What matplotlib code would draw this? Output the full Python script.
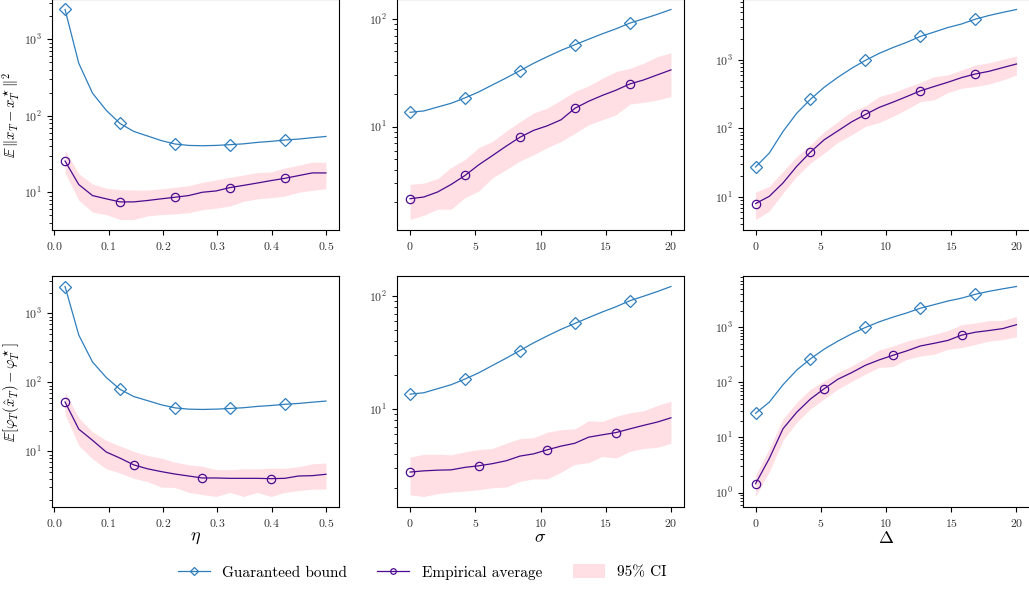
"""
Guaranteed bound vs empirical average: 2x3 grid of log-scale panels
(rows: distance to x*_T / suboptimality, columns: eta, sigma, Delta).
"""

import numpy as np
import matplotlib

matplotlib.use("Agg")
import matplotlib.pyplot as plt  # noqa: E402
from matplotlib.lines import Line2D  # noqa: E402
from matplotlib.patches import Patch  # noqa: E402

# ---------------------------------------------------------------------------
# Data
# ---------------------------------------------------------------------------

ETA = [0.02, 0.0453, 0.0705, 0.0958, 0.1211, 0.1463, 0.1716, 0.1968, 0.2221, 0.2474,
       0.2726, 0.2979, 0.3232, 0.3484, 0.3737, 0.3989, 0.4242, 0.4495, 0.4747, 0.5]
SIGMA = [0.0, 1.053, 2.105, 3.158, 4.211, 5.263, 6.316, 7.368, 8.421, 9.474,
         10.526, 11.579, 12.632, 13.684, 14.737, 15.789, 16.842, 17.895, 18.947, 20.0]
DELTA = SIGMA

# guaranteed bound (identical in both rows)
BOUND_ETA = [2460, 486, 198, 118, 79.4, 62.5, 54.5, 47.5, 42.8, 41.0,
             40.6, 41.0, 41.9, 43.0, 44.9, 46.3, 48.2, 49.6, 51.7, 53.7]
BOUND_SIGMA = [13.6, 14.0, 15.2, 16.5, 18.5, 21.0, 24.4, 28.3, 33.1, 38.7,
               44.6, 51.0, 57.5, 64.7, 72.6, 80.8, 91.2, 100, 110, 122]
BOUND_DELTA = [27.4, 43.7, 90.4, 167, 267, 400, 560, 757, 989, 1250,
               1520, 1810, 2210, 2560, 2980, 3360, 3950, 4470, 4960, 5470]

# row 1: E||x_T - x*_T||^2
DIST_ETA = [25.6, 12.6, 9.05, 8.2, 7.48, 7.48, 7.8, 8.2, 8.6, 9.05,
            10.0, 10.4, 11.5, 12.3, 13.2, 14.2, 15.2, 16.5, 17.9, 17.9]
DIST_ETA_HI = [35.3, 17.5, 12.8, 11.3, 10.8, 10.7, 10.7, 11.1, 11.6, 12.2,
               13.5, 14.5, 15.7, 16.8, 18.1, 18.4, 20.8, 22.5, 24.9, 24.6]
DIST_ETA_LO = [17.9, 7.87, 5.5, 5.1, 4.4, 4.4, 4.9, 5.1, 5.2, 5.4,
               5.9, 6.2, 6.6, 7.6, 8.2, 8.5, 8.9, 10.0, 10.6, 11.1]

DIST_SIGMA = [2.15, 2.23, 2.48, 2.92, 3.53, 4.43, 5.4, 6.6, 7.98, 9.25,
              10.2, 11.6, 14.8, 17.2, 19.5, 21.8, 24.9, 27.1, 30.2, 33.6]
DIST_SIGMA_HI = [2.92, 3.0, 3.3, 4.2, 4.96, 6.4, 7.3, 9.1, 11.1, 13.4,
                 14.9, 17.7, 21.2, 23.9, 28.1, 32.4, 34.8, 38.7, 44.6, 48.5]
DIST_SIGMA_LO = [1.38, 1.51, 1.72, 1.72, 2.2, 2.53, 3.36, 4.0, 4.8, 5.5,
                 6.4, 7.3, 8.7, 10.4, 11.6, 12.9, 16.2, 16.8, 17.7, 19.0]

DIST_DELTA = [8.0, 10.2, 16.0, 28.0, 45.2, 68.4, 92.4, 125, 160, 203,
              242, 292, 354, 410, 473, 553, 625, 684, 774, 875]
DIST_DELTA_HI = [11.7, 14.3, 23.6, 39.0, 57.7, 90.0, 126, 177, 214, 292,
                 333, 400, 468, 572, 605, 715, 844, 912, 1020, 1150]
DIST_DELTA_LO = [4.68, 6.2, 11.4, 20.0, 31.3, 43.8, 62.6, 81.0, 107, 122,
                 150, 190, 247, 262, 333, 387, 410, 446, 510, 605]

# row 2: E[phi_T(x_hat_T) - phi*_T]
GAP_ETA = [52.1, 21.0, 14.5, 9.8, 8.0, 6.38, 5.6, 5.1, 4.7, 4.4,
           4.12, 4.12, 4.07, 4.07, 4.07, 4.03, 4.07, 4.4, 4.45, 4.66]
GAP_ETA_HI = [72.3, 30.7, 19.2, 14.5, 12.0, 10.0, 8.74, 8.0, 7.0, 6.4,
              6.1, 5.45, 5.45, 5.6, 5.6, 5.7, 5.7, 6.0, 6.6, 6.8]
GAP_ETA_LO = [34.4, 12.2, 7.8, 5.6, 4.87, 4.07, 3.64, 3.04, 3.0, 2.54,
              2.37, 2.22, 2.54, 2.22, 2.54, 2.22, 2.54, 2.7, 2.84, 2.84]

GAP_SIGMA = [2.78, 2.85, 2.89, 2.91, 3.06, 3.16, 3.3, 3.5, 3.85, 4.03,
             4.38, 4.72, 5.0, 5.66, 5.94, 6.22, 6.7, 7.2, 7.7, 8.4]
GAP_SIGMA_HI = [3.77, 4.0, 4.0, 3.95, 4.2, 4.4, 4.5, 5.0, 5.5, 5.6,
                6.27, 6.6, 6.7, 7.9, 7.8, 8.67, 9.3, 9.7, 10.8, 11.8]
GAP_SIGMA_LO = [1.75, 1.69, 1.79, 1.85, 1.89, 1.94, 2.02, 2.05, 2.3, 2.42,
                2.42, 2.78, 3.25, 3.37, 3.82, 3.7, 4.23, 4.5, 4.6, 5.0]

GAP_DELTA = [1.45, 4.15, 14.4, 28.7, 49.9, 76.6, 114, 150, 204, 255,
             309, 371, 456, 510, 575, 717, 810, 870, 943, 1110]
GAP_DELTA_HI = [2.08, 6.27, 21.8, 43.4, 75.4, 106, 150, 198, 272, 385,
                456, 560, 645, 740, 870, 1110, 1190, 1320, 1330, 1570]
GAP_DELTA_LO = [0.85, 2.39, 8.87, 18.9, 33.0, 50.0, 75.4, 104, 141, 186,
                193, 260, 300, 322, 398, 425, 487, 560, 596, 669]

X_LABELS = [r"$\eta$", r"$\sigma$", r"$\Delta$"]
Y_LABELS = [r"$\mathbb{E}\,\|x_T - x_T^\star\|^2$",
            r"$\mathbb{E}[\varphi_T(\hat{x}_T) - \varphi_T^\star]$"]
LEGEND_LABELS = ["Guaranteed bound", "Empirical average", "95% CI"]

# ---------------------------------------------------------------------------
# Style
# ---------------------------------------------------------------------------

BOUND_COLOR = "#2e7ebc"
EMP_COLOR = "#4b0a8f"
CI_COLOR = "pink"

plt.rcParams["font.family"] = ["cmr10", "DejaVu Serif"]
plt.rcParams["mathtext.fontset"] = "cm"
plt.rcParams["axes.formatter.use_mathtext"] = True
plt.rcParams["axes.unicode_minus"] = False

W, H = 1029, 592
COL_LEFT = [52, 397, 742.5]
ROW_TOP = [-1, 276]
AX_W, AX_H = 287, 231


def panel(ax, x, bound, emp, lo, hi, emp_every):
    ax.fill_between(x, lo, hi, color=CI_COLOR, alpha=0.5, linewidth=0)
    ax.plot(x, bound, color=BOUND_COLOR, lw=0.9, marker="D", ms=6,
            mfc="none", mew=0.9, markevery=4)
    ax.plot(x, emp, color=EMP_COLOR, lw=0.9, marker="o", ms=6,
            mfc="none", mew=0.9, markevery=emp_every)
    ax.set_yscale("log")
    ax.tick_params(labelsize=8.5, labelcolor="#333333")


fig = plt.figure(figsize=(W / 100, H / 100), dpi=100)

rows = [
    [(ETA, BOUND_ETA, DIST_ETA, DIST_ETA_LO, DIST_ETA_HI),
     (SIGMA, BOUND_SIGMA, DIST_SIGMA, DIST_SIGMA_LO, DIST_SIGMA_HI),
     (DELTA, BOUND_DELTA, DIST_DELTA, DIST_DELTA_LO, DIST_DELTA_HI)],
    [(ETA, BOUND_ETA, GAP_ETA, GAP_ETA_LO, GAP_ETA_HI),
     (SIGMA, BOUND_SIGMA, GAP_SIGMA, GAP_SIGMA_LO, GAP_SIGMA_HI),
     (DELTA, BOUND_DELTA, GAP_DELTA, GAP_DELTA_LO, GAP_DELTA_HI)],
]

for r, row in enumerate(rows):
    for c, (x, bound, emp, lo, hi) in enumerate(row):
        rect = [COL_LEFT[c] / W, 1 - (ROW_TOP[r] + AX_H) / H, AX_W / W, AX_H / H]
        ax = fig.add_axes(rect)
        panel(ax, x, bound, emp, lo, hi, emp_every=4 if r == 0 else 5)
        if c == 0:
            ax.set_xticks([0.0, 0.1, 0.2, 0.3, 0.4, 0.5])
            ax.set_ylabel(Y_LABELS[r], fontsize=10.5)
            ax.yaxis.set_label_coords(-0.105, 0.5)
        else:
            ax.set_xticks([0, 5, 10, 15, 20])
        if r == 1:
            ax.set_xlabel(X_LABELS[c], fontsize=13, labelpad=1)

handles = [
    Line2D([], [], color=BOUND_COLOR, lw=0.9, marker="D", ms=4, mfc="none", mew=0.9),
    Line2D([], [], color=EMP_COLOR, lw=0.9, marker="o", ms=4, mfc="none", mew=0.9),
    Patch(facecolor=CI_COLOR, alpha=0.5, linewidth=0),
]
fig.legend(handles, LEGEND_LABELS, loc="center", ncol=3, frameon=False,
           fontsize=11, handlelength=2.1, handleheight=1.0,
           bbox_to_anchor=(422 / W, 1 - 572 / H))

fig.savefig("out.png", dpi=100)
